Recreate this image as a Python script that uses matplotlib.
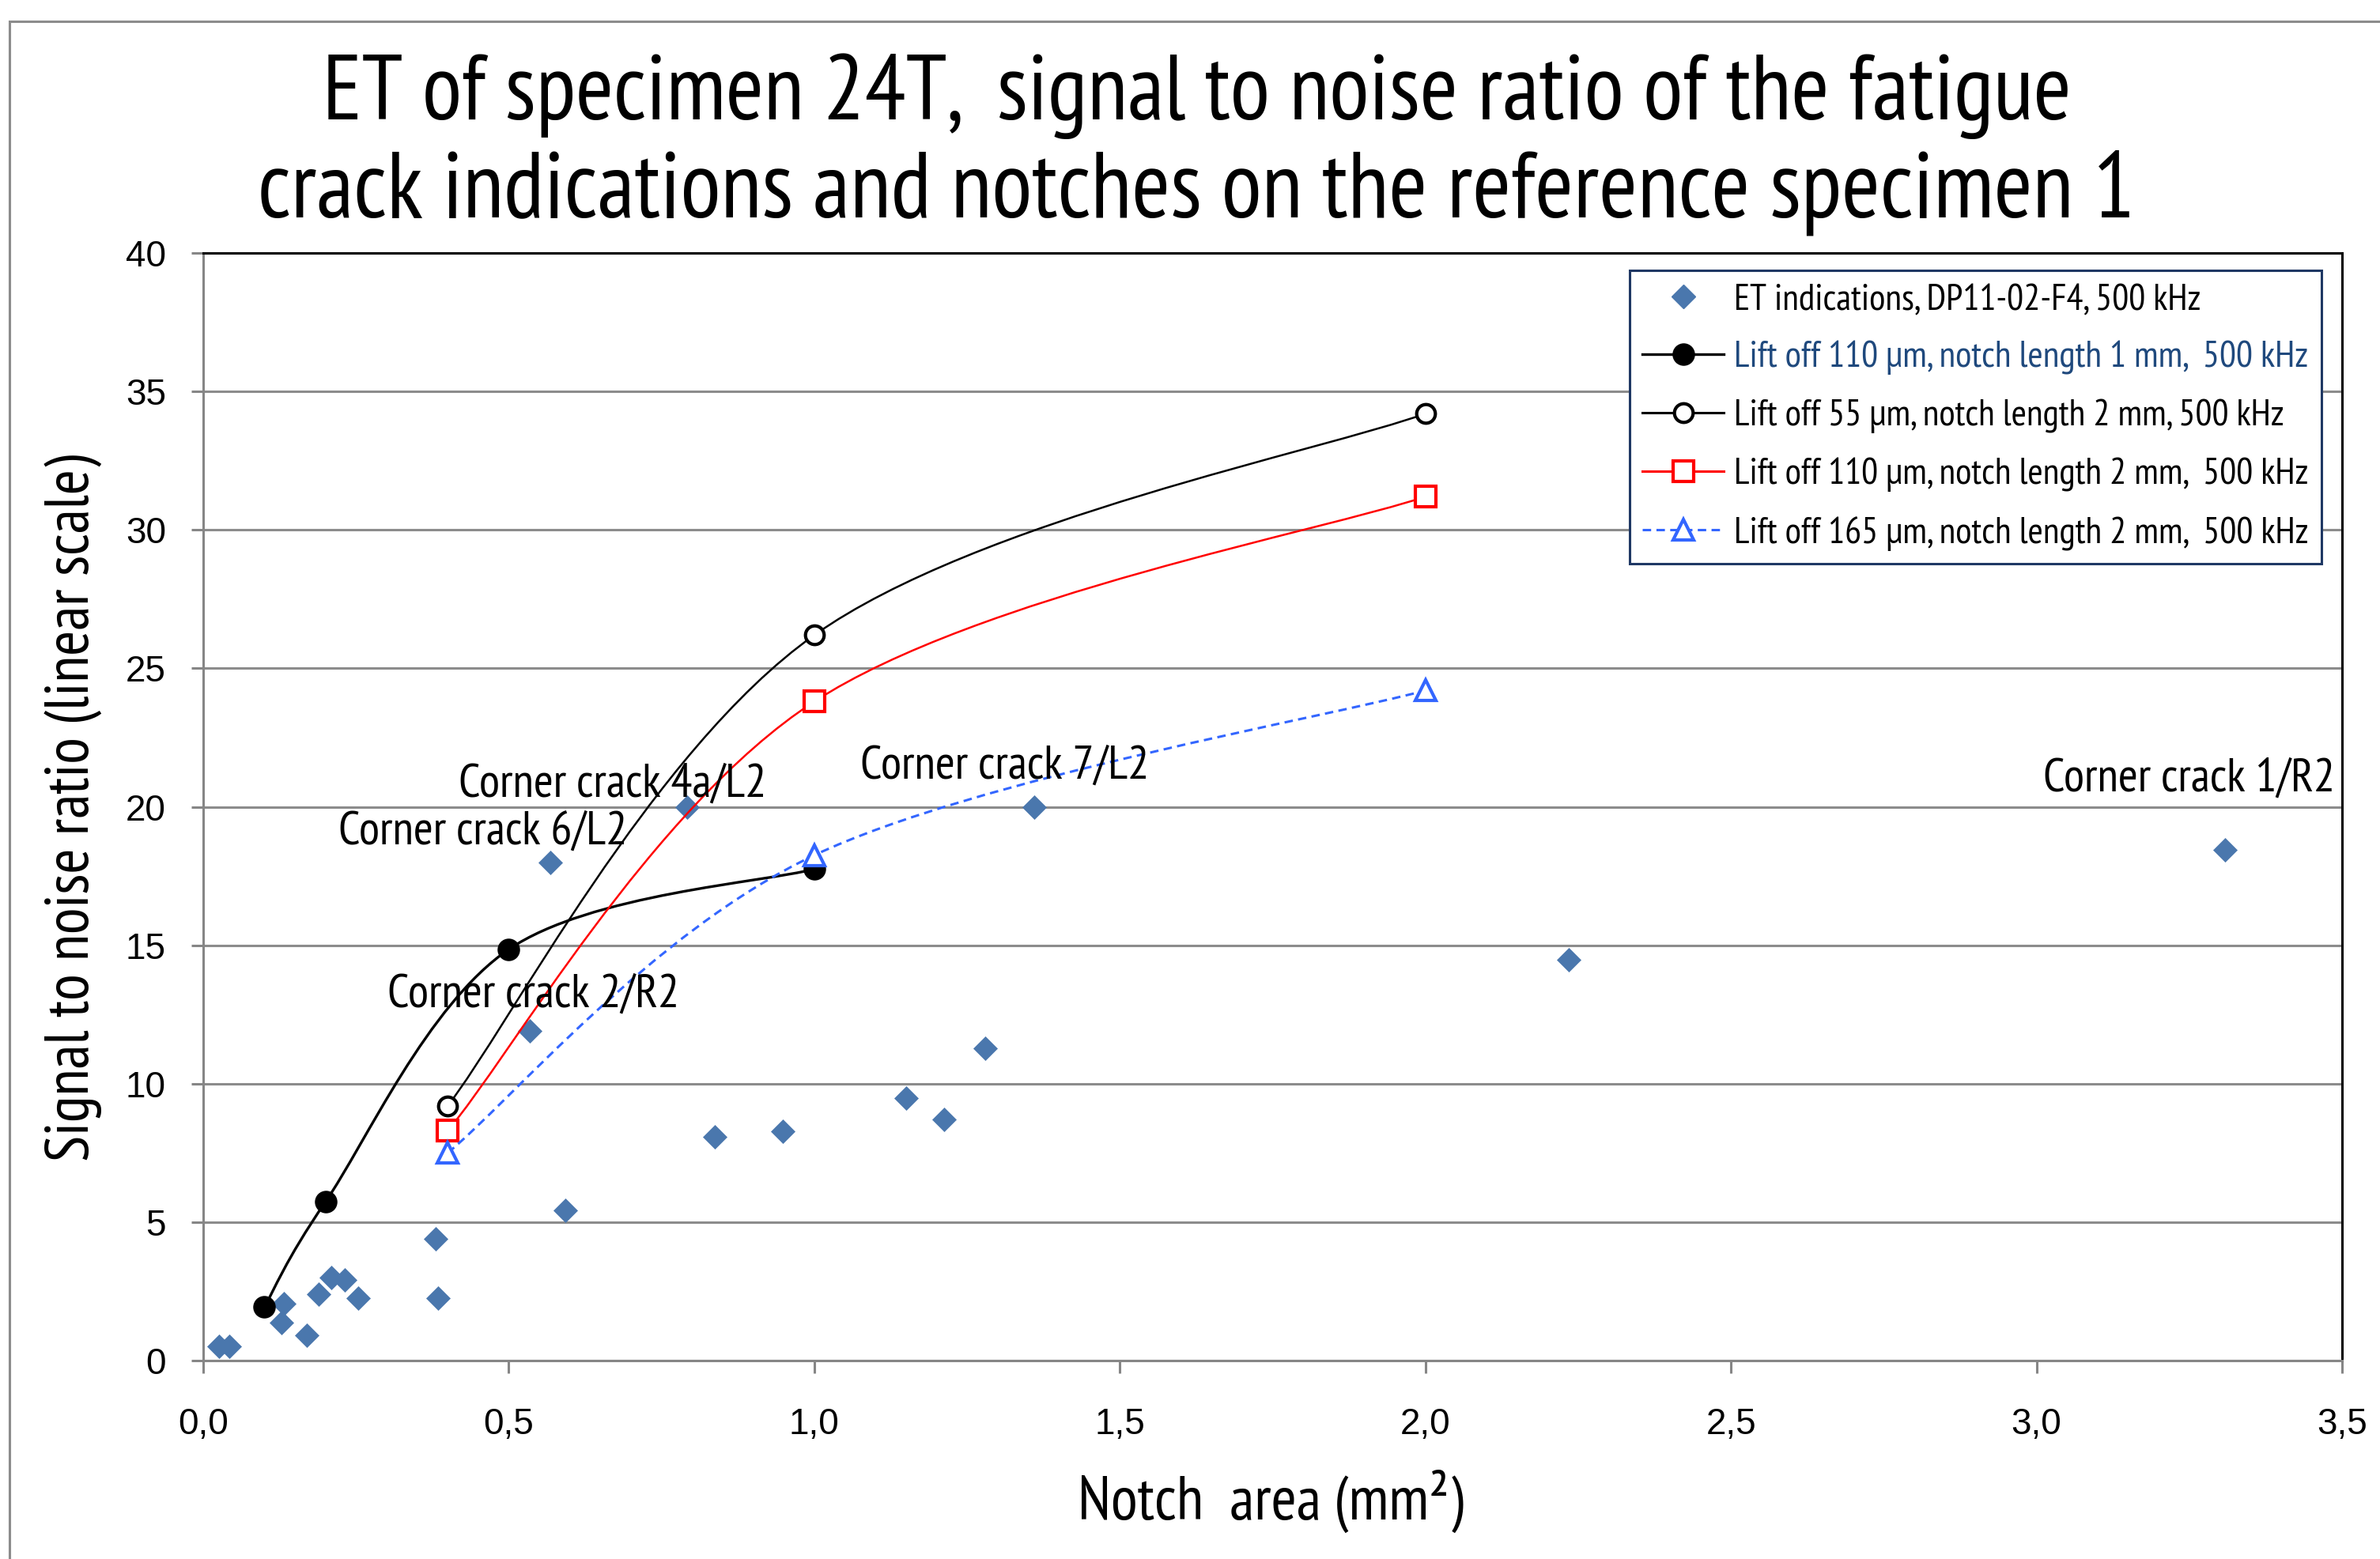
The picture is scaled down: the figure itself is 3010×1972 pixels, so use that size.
import matplotlib
matplotlib.use('Agg')
import matplotlib.pyplot as plt
from matplotlib.path import Path
from matplotlib.patches import PathPatch, Rectangle
from matplotlib.lines import Line2D
from matplotlib import font_manager as fm
import numpy as np


def pick(fams):
    for f in fams:
        try:
            fm.findfont(fm.FontProperties(family=f), fallback_to_default=False)
            return f
        except Exception:
            pass
    return 'DejaVu Sans'


NARROW = pick(['PT Sans Narrow', 'Roboto Condensed', 'IBM Plex Sans Condensed',
               'Liberation Sans Narrow', 'Liberation Sans'])
REG = pick(['Liberation Sans', 'DejaVu Sans'])

# ---------------- data ----------------
title_lines = ["ET of specimen 24T,  signal to noise ratio of the fatigue",
               "crack indications and notches on the reference specimen 1"]
x_label = "Notch  area (mm²)"
y_label = "Signal to noise ratio (linear scale)"

x_ticks = [0.0, 0.5, 1.0, 1.5, 2.0, 2.5, 3.0, 3.5]
x_tick_labels = ["0,0", "0,5", "1,0", "1,5", "2,0", "2,5", "3,0", "3,5"]
y_ticks = [0, 5, 10, 15, 20, 25, 30, 35, 40]
y_tick_labels = ["0", "5", "10", "15", "20", "25", "30", "35", "40"]

et_x = [0.026, 0.043, 0.128, 0.132, 0.170, 0.189, 0.210, 0.232, 0.253, 0.380,
        0.384, 0.535, 0.568, 0.593, 0.792, 0.837, 0.949, 1.150, 1.212, 1.280,
        1.360, 2.234, 3.308]
et_y = [0.51, 0.51, 1.36, 2.05, 0.91, 2.40, 2.99, 2.92, 2.26, 4.41,
        2.26, 11.91, 18.0, 5.43, 20.0, 8.07, 8.29, 9.48, 8.71, 11.28,
        20.0, 14.48, 18.45]

lo110_1mm_x = [0.1, 0.2, 0.5, 1.0]
lo110_1mm_y = [1.93, 5.73, 14.85, 17.75]
lo55_2mm_x = [0.4, 1.0, 2.0]
lo55_2mm_y = [9.2, 26.2, 34.2]
lo110_2mm_x = [0.4, 1.0, 2.0]
lo110_2mm_y = [8.3, 23.8, 31.2]
lo165_2mm_x = [0.4, 1.0, 2.0]
lo165_2mm_y = [7.5, 18.25, 24.2]

series_labels = ["ET indications, DP11-02-F4, 500 kHz",
                 "Lift off 110 µm, notch length 1 mm,  500 kHz",
                 "Lift off 55 µm, notch length 2 mm, 500 kHz",
                 "Lift off 110 µm, notch length 2 mm,  500 kHz",
                 "Lift off 165 µm, notch length 2 mm,  500 kHz"]

crack_labels = ["Corner crack 4a/L2", "Corner crack 6/L2", "Corner crack 2/R2",
                "Corner crack 7/L2", "Corner crack 1/R2"]
crack_label_pos = [(0.670, 20.8), (0.458, 19.1), (0.540, 13.2),
                   (1.312, 21.45), (3.250, 21.0)]

# ---------------- figure ----------------
W, H = 3010, 1972
DPI = 100
fig = plt.figure(figsize=(W / DPI, H / DPI), dpi=DPI)
fig.patch.set_facecolor('white')
renderer = fig.canvas.get_renderer()


def fit(t, target_px):
    w = t.get_window_extent(renderer).width
    t.set_fontsize(t.get_fontsize() * target_px / w)


def fx(px):
    return px / W


def fy(py):
    return 1 - py / H


# outer chart frame (cut at the right and bottom like the reference)
fig.patches.append(Rectangle((fx(12), -0.05), 1.2, fy(27) + 0.05,
                             transform=fig.transFigure, fill=False,
                             edgecolor='#8C8C8C', lw=2.2, zorder=0))

L, R, T, B = 257, 2962, 320, 1721
ax = fig.add_axes([fx(L), fy(B), fx(R - L), (B - T) / H])

GRAY = '#868686'
ax.set_xlim(0, 3.5)
ax.set_ylim(0, 40)
ax.set_xticks(x_ticks)
ax.set_xticklabels(x_tick_labels, fontfamily=REG, fontsize=33)
ax.set_yticks(y_ticks)
ax.set_yticklabels(y_tick_labels, fontfamily=REG, fontsize=33)
ax.tick_params(axis='x', direction='out', length=11.5, width=2.2, color=GRAY, pad=31)
ax.tick_params(axis='y', direction='out', length=11, width=2.2, color=GRAY, pad=23)
for s in ['left', 'bottom']:
    ax.spines[s].set_color(GRAY)
    ax.spines[s].set_linewidth(2.2)
for s in ['top', 'right']:
    ax.spines[s].set_color('black')
    ax.spines[s].set_linewidth(2.2)
ax.yaxis.grid(True, color='#8C8C8C', lw=2.2)
ax.set_axisbelow(True)


def smooth_path(xs, ys):
    P = np.column_stack([xs, ys]).astype(float)
    n = len(P)
    verts = [tuple(P[0])]
    codes = [Path.MOVETO]
    for i in range(n - 1):
        p0 = P[i - 1] if i > 0 else P[i]
        p1 = P[i]
        p2 = P[i + 1]
        p3 = P[i + 2] if i + 2 < n else P[i + 1]
        c1 = p1 + (p2 - p0) / 6.0
        c2 = p2 - (p3 - p1) / 6.0
        verts += [tuple(c1), tuple(c2), tuple(p2)]
        codes += [Path.CURVE4] * 3
    return Path(verts, codes)


DIAM = '#4A77AD'
BLUE = '#3366FF'
RED = '#FF0000'

# ET indications
ax.plot(et_x, et_y, ls='none', marker='D', ms=15, mfc=DIAM, mec=DIAM,
        mew=0.5, zorder=3)

styles = [
    dict(x=lo110_1mm_x, y=lo110_1mm_y, color='black', lw=2.4, ls='-',
         marker='o', ms=19, mfc='black', mec='black', mew=1.5),
    dict(x=lo55_2mm_x, y=lo55_2mm_y, color='black', lw=1.8, ls='-',
         marker='o', ms=17, mfc='white', mec='black', mew=3.0),
    dict(x=lo110_2mm_x, y=lo110_2mm_y, color=RED, lw=1.8, ls='-',
         marker='s', ms=19, mfc='white', mec=RED, mew=3.0),
    dict(x=lo165_2mm_x, y=lo165_2mm_y, color=BLUE, lw=2.2, ls=(0, (3.5, 2.2)),
         marker='^', ms=19, mfc='white', mec=BLUE, mew=3.0),
]
handles = [Line2D([], [], ls='none', marker='D', ms=15, mfc=DIAM, mec=DIAM)]
z = 4
for st in styles:
    ax.add_patch(PathPatch(smooth_path(st['x'], st['y']), fill=False,
                           edgecolor=st['color'], lw=st['lw'],
                           linestyle=st['ls'], zorder=z))
    ax.plot(st['x'], st['y'], ls='none', marker=st['marker'], ms=st['ms'],
            mfc=st['mfc'], mec=st['mec'], mew=st['mew'], zorder=z + 0.5)
    handles.append(Line2D([], [], color=st['color'], lw=max(st['lw'], 2.2),
                          ls=st['ls'], marker=st['marker'], ms=st['ms'],
                          mfc=st['mfc'], mec=st['mec'], mew=st['mew']))
    z += 1

# annotations
tmp = fig.text(0, 0, crack_labels[-1], fontfamily=NARROW, fontsize=36)
fit(tmp, 370)
ann_size = tmp.get_fontsize()
tmp.remove()
for lab, (px, py) in zip(crack_labels, crack_label_pos):
    ax.text(px, py, lab, fontfamily=NARROW, fontsize=ann_size, ha='center',
            va='center', color='black', zorder=10)

# titles
t1 = fig.text(fx(1514), fy(151), title_lines[0], fontfamily=NARROW,
              fontsize=72, ha='center', va='baseline')
fit(t1, 2211)
t2 = fig.text(fx(1513), fy(274), title_lines[1], fontfamily=NARROW,
              fontsize=72, ha='center', va='baseline')
fit(t2, 2374)

# axis labels
yl = fig.text(fx(93), fy(1022), y_label, fontfamily=NARROW, fontsize=52,
              rotation=90, ha='center', va='center')
fit_h = yl.get_window_extent(renderer).height
yl.set_fontsize(yl.get_fontsize() * 893 / fit_h)
xl = fig.text(fx(1607), fy(1922), x_label, fontfamily=NARROW, fontsize=52,
              ha='center', va='baseline')
fit(xl, 488)

# legend
tmp = fig.text(0, 0, series_labels[1], fontfamily=NARROW, fontsize=30)
fit(tmp, 726)
leg_size = tmp.get_fontsize()
text_h = tmp.get_window_extent(renderer).height
tmp.remove()
F = leg_size * DPI / 72.0
row_h = max(text_h, 0.7 * F)
lab_sp = max((74 - row_h) / F, 0.1)
pad_px = 38 - row_h / 2
leg = ax.legend(handles, series_labels, loc='upper left',
                bbox_to_anchor=(fx(2061), fy(342)), bbox_transform=fig.transFigure,
                prop=fm.FontProperties(family=NARROW, size=leg_size),
                frameon=True, fancybox=False, framealpha=1, edgecolor='#1F3864',
                borderpad=max(pad_px, 12) / F, labelspacing=lab_sp,
                handlelength=103 / F, handletextpad=13 / F, borderaxespad=0,
                numpoints=1)
leg.get_frame().set_linewidth(2.2)
leg.set_zorder(20)
leg.get_texts()[1].set_color('#1F497D')

fig.savefig('out.png', dpi=DPI, facecolor='white')
